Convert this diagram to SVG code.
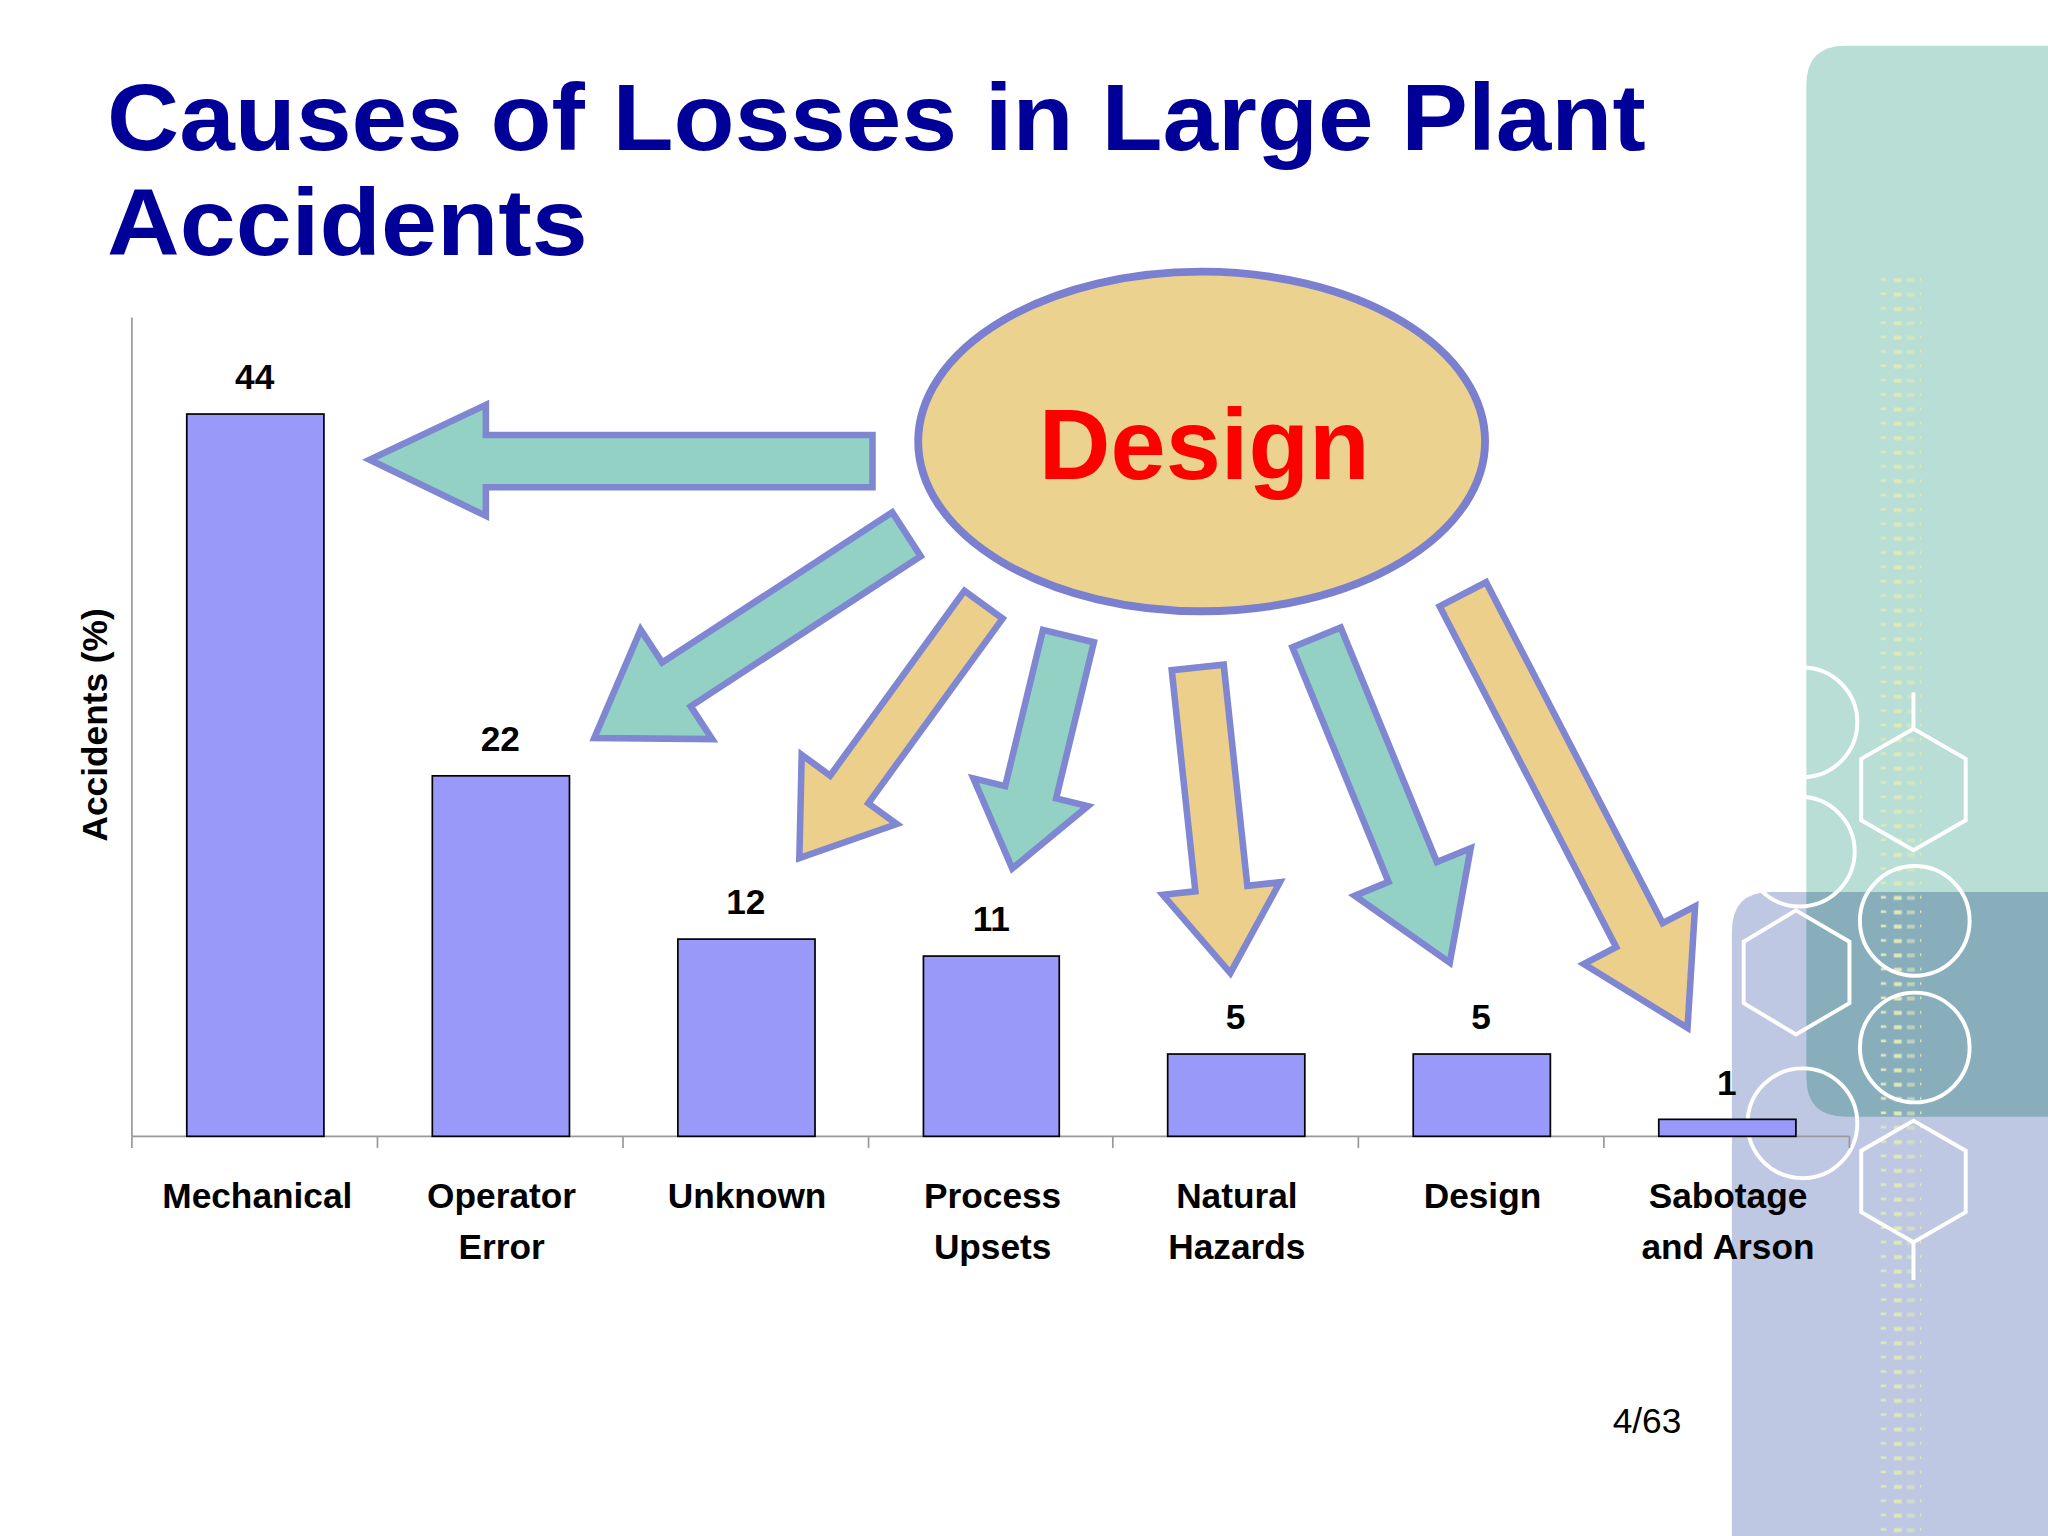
<svg xmlns="http://www.w3.org/2000/svg" width="2048" height="1536" viewBox="0 0 2048 1536">
<defs>
<style>
.deco{fill:none;stroke:#fff;stroke-width:3}
.bar{fill:#9999fa;stroke:#000;stroke-width:1.3}
.val{font-family:"Liberation Sans",Arial,sans-serif;font-weight:bold;font-size:27px;text-anchor:middle;fill:#000}
.cat{font-family:"Liberation Sans",Arial,sans-serif;font-weight:bold;font-size:27px;text-anchor:middle;fill:#000}
.title{font-family:"Liberation Sans",Arial,sans-serif;font-weight:bold;font-size:72px;fill:#000099}
.ta{fill:#92d1c3;stroke:#7f86d2;stroke-width:5;stroke-linejoin:miter}
.ya{fill:#ebcf8a;stroke:#7f86d2;stroke-width:5;stroke-linejoin:miter}
</style>
<pattern id="dots" x="0" y="0" width="30" height="11" patternUnits="userSpaceOnUse">
<rect x="0" y="4" width="4" height="2" fill="#dfe9b8"/>
<rect x="10" y="4" width="6" height="3" fill="#dfe9b8"/>
<rect x="20" y="4" width="6" height="3" fill="#dfe9b8" opacity="0.6"/>
</pattern>
</defs>
<rect width="2048" height="1536" fill="#fff"/>
<g transform="scale(1.30612)">
<g id="background">
<path d="M1383,65 Q1383,35 1413,35 L1568,35 L1568,855 L1413,855 Q1383,855 1383,825 Z" fill="#b8ded6"/>
<path d="M1326,713 Q1326,683 1356,683 L1568,683 L1568,1176 L1326,1176 Z" fill="#bec8e2"/>
<path d="M1383,683 L1568,683 L1568,855 L1413,855 Q1383,855 1383,825 Z" fill="#88aebb"/>
<rect x="1437" y="210" width="34" height="966" fill="url(#dots)"/>
<circle class="deco" cx="1380" cy="553" r="42"/>
<circle class="deco" cx="1378" cy="652" r="42"/>
<circle class="deco" cx="1466" cy="705" r="42"/>
<circle class="deco" cx="1466" cy="802" r="42"/>
<circle class="deco" cx="1380" cy="860" r="42"/>
<polygon class="deco" points="1465,558 1505,581 1505,628 1465,651 1425,628 1425,581"/>
<polygon class="deco" points="1375,697 1416,721 1416,768 1375,792 1335,768 1335,721"/>
<polygon class="deco" points="1465,858 1505,881 1505,928 1465,951 1425,928 1425,881"/>
<line class="deco" x1="1465" y1="530" x2="1465" y2="558"/>
<line class="deco" x1="1465" y1="951" x2="1465" y2="980"/>
</g>
<g id="title">
<text class="title" x="82" y="115" textLength="1178" lengthAdjust="spacingAndGlyphs">Causes of Losses in Large Plant</text>
<text class="title" x="82" y="195" textLength="368" lengthAdjust="spacingAndGlyphs">Accidents</text>
</g>
<g id="chart">
<line x1="101" y1="243" x2="101" y2="870" stroke="#999" stroke-width="1.3"/>
<line x1="101" y1="870" x2="1416" y2="870" stroke="#999" stroke-width="1.3"/>
<g stroke="#999" stroke-width="1.3">
<line x1="101" y1="870" x2="101" y2="879"/><line x1="289" y1="870" x2="289" y2="879"/><line x1="477" y1="870" x2="477" y2="879"/><line x1="665" y1="870" x2="665" y2="879"/><line x1="852" y1="870" x2="852" y2="879"/><line x1="1040" y1="870" x2="1040" y2="879"/><line x1="1228" y1="870" x2="1228" y2="879"/><line x1="1416" y1="870" x2="1416" y2="879"/>
</g>
<text x="82" y="555" transform="rotate(-90 82 555)" class="cat" font-size="26">Accidents (%)</text>
<g id="bar-mechanical"><rect class="bar" x="143" y="317" width="105" height="553"/><text class="val" x="195" y="298">44</text><text class="cat" x="197" y="925">Mechanical</text></g>
<g id="bar-operator"><rect class="bar" x="331" y="594" width="105" height="276"/><text class="val" x="383" y="575">22</text><text class="cat" x="384" y="925">Operator</text><text class="cat" x="384" y="964">Error</text></g>
<g id="bar-unknown"><rect class="bar" x="519" y="719" width="105" height="151"/><text class="val" x="571" y="700">12</text><text class="cat" x="572" y="925">Unknown</text></g>
<g id="bar-process"><rect class="bar" x="707" y="732" width="104" height="138"/><text class="val" x="759" y="713">11</text><text class="cat" x="760" y="925">Process</text><text class="cat" x="760" y="964">Upsets</text></g>
<g id="bar-natural"><rect class="bar" x="894" y="807" width="105" height="63"/><text class="val" x="946" y="788">5</text><text class="cat" x="947" y="925">Natural</text><text class="cat" x="947" y="964">Hazards</text></g>
<g id="bar-design"><rect class="bar" x="1082" y="807" width="105" height="63"/><text class="val" x="1134" y="788">5</text><text class="cat" x="1135" y="925">Design</text></g>
<g id="bar-sabotage"><rect class="bar" x="1270" y="857" width="105" height="13"/><text class="val" x="1322" y="838">1</text><text class="cat" x="1323" y="925">Sabotage</text><text class="cat" x="1323" y="964">and Arson</text></g>
</g>
<g id="connectors">
<polygon class="ta" points="668,333 372,333 372,310 283,352 372,395 372,373 668,373"/>
<polygon class="ta" points="704.9,425.8 528.8,540.8 545.3,565.9 455,565 490.5,482.1 507,507.2 683.1,392.2"/>
<polygon class="ya" points="767.6,473.6 664.8,615 686.6,630.9 612,657 613.8,577.9 635.6,593.8 738.4,452.4"/>
<polygon class="ta" points="837.5,491.7 808.6,611.3 832.9,617.2 775,665 745.3,596 769.6,601.9 798.5,482.3"/>
<polygon class="ya" points="897.1,513.1 915.2,682.4 890.3,685.1 942,745 979.9,675.5 955,678.2 936.9,508.9"/>
<polygon class="ta" points="989.5,495.6 1063.1,675.2 1037.2,685.8 1110,737 1126,649.4 1100.1,660 1026.5,480.4"/>
<polygon class="ya" points="1102.2,464.2 1237.4,725.2 1212.6,738.1 1292,787 1297.8,693.9 1273,706.8 1137.8,445.8"/>
</g>
<g id="design-node">
<ellipse cx="920" cy="338" rx="217" ry="130" fill="#ecd28f" stroke="#7b7fd0" stroke-width="6"/>
<text x="922" y="367" font-family="Liberation Sans,Arial,sans-serif" font-weight="bold" font-size="76" fill="#ff0000" text-anchor="middle">Design</text>
</g>
<text x="1261" y="1097" font-family="Liberation Sans,Arial,sans-serif" font-size="27" text-anchor="middle" fill="#000">4/63</text>
</g>
</svg>
